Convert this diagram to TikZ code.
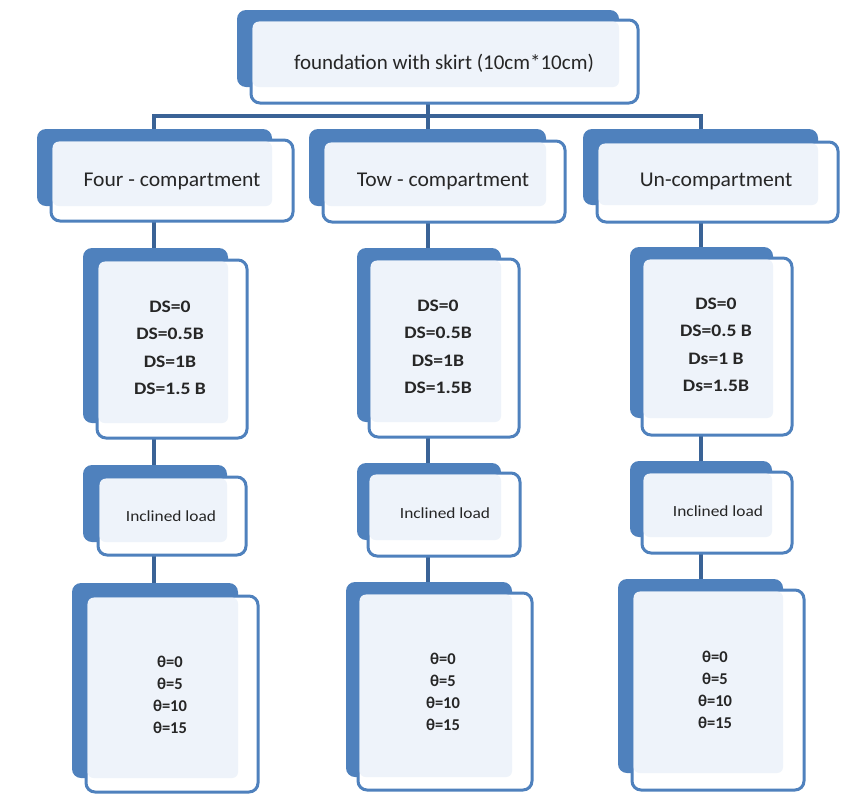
\documentclass[tikz,border=0pt]{standalone}
\usepackage{fontspec}
\usepackage{graphicx}
\setmainfont{Carlito}
\usetikzlibrary{fit}
\definecolor{boxblue}{RGB}{79,129,189}
\definecolor{linkblue}{RGB}{58,99,150}
\definecolor{paleblue}{RGB}{238,243,250}
\definecolor{ink}{RGB}{38,38,38}
\pgfdeclarelayer{bg}
\pgfsetlayers{bg,main}
\newcommand{\wide}[1]{\scalebox{1.12}[1]{#1}}
\newcommand{\twobox}[9]{%
  \node[backbox, fit={(#2,#3)(#4,#5)}] (#1B) {};
  \node[frontbox, fit={(#6,#7)(#8,#9)}] (#1F) {};
  \fill[paleblue, rounded corners=6pt] ([xshift=1.6pt,yshift=-1.6pt]#1F.north west) rectangle (#1B.south east);
}
\tikzset{
  backbox/.style={inner sep=0pt, outer sep=0pt, fill=boxblue, rounded corners=9pt},
  frontbox/.style={inner sep=0pt, outer sep=0pt, fill=white, draw=boxblue, line width=3pt, rounded corners=9pt},
  conn/.style={draw=linkblue, line width=3.2pt},
  bigtxt/.style={font=\fontsize{21}{25}\selectfont, text=ink, inner sep=0pt},
  dstxt/.style={font=\fontsize{17.5}{27.5}\selectfont\bfseries, text=ink, align=center, inner sep=0pt},
  loadtxt/.style={font=\fontsize{15.5}{18}\selectfont, text=ink, inner sep=0pt},
  thtxt/.style={font=\fontsize{16.5}{22}\selectfont\bfseries, text=ink, align=center, inner sep=0pt}
}
\begin{document}
\begin{tikzpicture}[x=1pt,y=-1pt]
\useasboundingbox (0,0) rectangle (851,793);
% top
\twobox{top}{237}{10}{619}{87}{251}{20}{638}{103}
\node[bigtxt] (ttop) at (444,63) {foundation with skirt (10cm*10cm)};
% level 2
\twobox{fa}{37}{129}{272}{206}{51}{140}{293}{221}
\node[bigtxt] (tfa) at (172,181) {\scalebox{1.03}[1]{Four - compartment}};
\twobox{ta}{309}{129}{546}{206}{323}{141}{565}{222}
\node[bigtxt] (tta) at (443,181) {\scalebox{1.03}[1]{Tow - compartment}};
\twobox{ua}{583}{129}{818}{205}{597}{142}{838}{222}
\node[bigtxt] (tua) at (716,181) {\scalebox{1.03}[1]{Un-compartment}};
% level 3
\twobox{fb}{83}{248}{228}{423}{97}{260}{247}{438}
\node[dstxt] (tfb) at (170,348) {\wide{DS=0}\\\wide{DS=0.5B}\\\wide{DS=1B}\\\wide{DS=1.5 B}};
\twobox{tb}{357}{248}{501}{422}{369}{259}{519}{437}
\node[dstxt] (ttb) at (438,347) {\wide{DS=0}\\\wide{DS=0.5B}\\\wide{DS=1B}\\\wide{DS=1.5B}};
\twobox{ub}{630}{247}{773}{418}{642}{258}{792}{435}
\node[dstxt] (tub) at (716,345) {\wide{DS=0}\\\wide{DS=0.5 B}\\\wide{Ds=1 B}\\\wide{Ds=1.5B}};
% level 4
\twobox{fc}{83}{465}{227}{542}{98}{477}{246}{555}
\node[loadtxt] (tfc) at (171,516) {\wide{Inclined load}};
\twobox{tc}{357}{463}{501}{540}{368}{473}{520}{556}
\node[loadtxt] (ttc) at (445,513) {\wide{Inclined load}};
\twobox{uc}{630}{461}{772}{537}{642}{472}{792}{553}
\node[loadtxt] (tuc) at (718,511) {\wide{Inclined load}};
% level 5
\twobox{fd}{72}{583}{238}{778}{86}{596}{258}{792}
\node[thtxt] (tfd) at (170,695) {θ=0\\θ=5\\θ=10\\θ=15};
\twobox{td}{346}{582}{512}{777}{358}{593}{532}{790}
\node[thtxt] (ttd) at (443,692) {θ=0\\θ=5\\θ=10\\θ=15};
\twobox{ud}{618}{579}{783}{773}{632}{590}{804}{790}
\node[thtxt] (tud) at (715,690) {θ=0\\θ=5\\θ=10\\θ=15};
% connectors
\coordinate (hub) at (428,116);
\coordinate (c1) at (154,116);
\coordinate (c3) at (701,116);
\begin{pgfonlayer}{bg}
\draw[conn] (topF.south -| hub) -- (hub);
\draw[conn] (faB.north -| c1) -- (c1) -- (c3) -- (uaB.north -| c3);
\draw[conn] (hub) -- (taB.north -| hub);
\draw[conn] (faF.south -| c1) -- (fbB.north -| c1);
\draw[conn] (fbF.south -| c1) -- (fcB.north -| c1);
\draw[conn] (fcF.south -| c1) -- (fdB.north -| c1);
\draw[conn] (taF.south -| hub) -- (tbB.north -| hub);
\draw[conn] (tbF.south -| hub) -- (tcB.north -| hub);
\draw[conn] (tcF.south -| hub) -- (tdB.north -| hub);
\draw[conn] (uaF.south -| c3) -- (ubB.north -| c3);
\draw[conn] (ubF.south -| c3) -- (ucB.north -| c3);
\draw[conn] (ucF.south -| c3) -- (udB.north -| c3);
\end{pgfonlayer}
\end{tikzpicture}
\end{document}
